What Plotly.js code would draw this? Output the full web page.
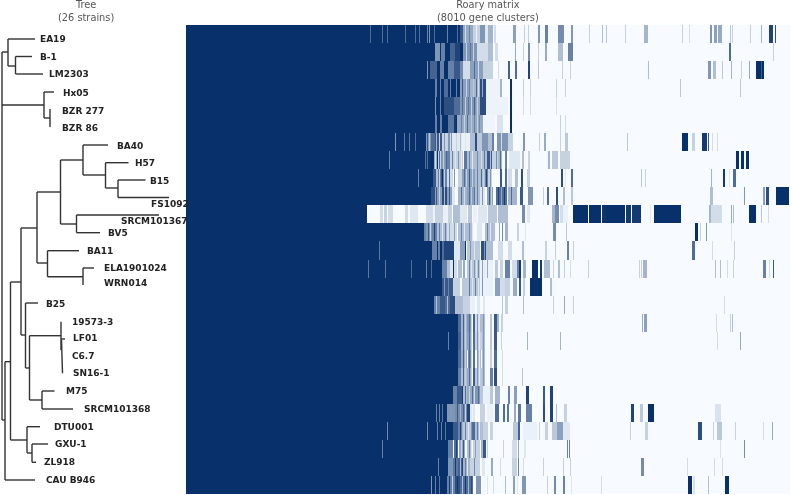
<!DOCTYPE html>
<html><head><meta charset="utf-8">
<script src="https://cdn.plot.ly/plotly-3.0.1.min.js"></script>
<style>html,body{margin:0;padding:0;background:#fff}#chart{width:791px;height:495px}
#chart .hm image,#chart .heatmaplayer image{filter:blur(0.55px)}
#chart .scatterlayer{filter:blur(0.3px)}</style>
</head><body><div id="chart"></div>
<script>
const strains=["EA19","B-1","LM2303","Hx05","BZR 277","BZR 86","BA40","H57","B15","FS1092","SRCM101367","BV5","BA11","ELA1901024","WRN014","B25","19573-3","LF01","C6.7","SN16-1","M75","SRCM101368","DTU001","GXU-1","ZL918","CAU B946"];
const totalClusters=8010, matrixBins=604;
// last bin of the solid core genome for each strain
const coreEnd=[274,277,274,274,274,274,262,262,262,262,181,262,280,268,268,268,272,272,272,272,278,264,278,265,265,270];
// [bin, level] or [startBin, endBin, level] read per strain
const r0=[[184,.7],[196,.7],[201,.7],[219,.7],[229,.7],[233,.7],[241,.6],[243,.5],[248,.7],[261,.6],[271,.7],[274,277,.8],[277,287,.4],[279,.15],[283,.6],[287,294,.2],[290,.05],[294,299,.5],[299,302,.1],[302,307,.35],[308,310,.15],[327,330,.45],[338,.2],[342,.2],[352,354,.5],[359,362,.6],[372,378,.55],[385,387,.5],[403,.2],[416,.3],[420,.25],[439,.2],[458,462,.35],[496,.2],[503,.15],[524,526,.5],[528,531,.45],[532,536,.4],[544,.25],[546,.2],[564,.2],[575,.35],[583,587,.9],[589,.85]];
const r1=[[249,254,.5],[255,259,.6],[264,269,.75],[269,274,.9],[277,291,.5],[280,.2],[284,.65],[287,.2],[291,302,.15],[302,307,.3],[309,312,.15],[329,.4],[337,.2],[342,344,.55],[352,.2],[359,361,.4],[372,377,.3],[382,387,.6],[543,545,.7],[587,.2]];
const r2=[[241,.5],[244,251,.75],[254,258,.6],[262,268,.6],[268,274,.8],[274,277,.55],[277,284,.15],[284,297,.45],[288,.7],[292,.15],[297,307,.2],[312,.15],[322,324,.75],[329,331,.7],[342,344,.9],[352,.25],[376,.2],[384,.2],[462,.3],[522,525,.5],[527,530,.3],[536,.25],[545,.35],[555,.2],[563,.4],[570,575,1],[575,.8],[576,578,1]];
const r3=[[249,251,.6],[254,.6],[258,262,.7],[264,.6],[270,.6],[274,284,.45],[276,.8],[280,.2],[283,.6],[284,294,.35],[287,.25],[290,.7],[292,.15],[294,300,.85],[296,.4],[300,314,.04],[314,316,.35],[324,326,1],[337,.2],[344,.2],[370,.2],[379,.2],[494,.25],[554,.25]];
const r4=[[249,.5],[254,.6],[258,268,.85],[268,274,.7],[274,290,.5],[276,.7],[279,.2],[282,.65],[285,.2],[288,.75],[290,294,.4],[291,.2],[294,300,.85],[300,322,.04],[324,326,1],[337,.15],[344,.15],[370,.12]];
const r5=[[249,251,.6],[254,256,.6],[262,268,.65],[268,270,.95],[271,297,.4],[275,.6],[278,.2],[281,.7],[285,.25],[288,.6],[291,.2],[293,.55],[297,309,.03],[311,317,.12],[324,326,1],[374,.2],[379,.15]];
const r6=[[209,.5],[218,.65],[223,.65],[229,.7],[240,246,.5],[241,.8],[243,.25],[245,.7],[246,249,.7],[249,256,.8],[250,.35],[253,.2],[256,262,.2],[258,.5],[262,266,.5],[264,.15],[266,276,.1],[270,.2],[274,.3],[276,284,.05],[279,.1],[284,289,.3],[289,291,.85],[291,296,.25],[296,302,.5],[302,306,.3],[306,308,.6],[311,322,.5],[315,.15],[322,327,.2],[337,339,.5],[353,.2],[358,360,.4],[374,.2],[379,382,.25],[441,.25],[496,502,1],[506,509,.2],[516,521,.95],[522,.8],[526,.15],[531,.15]];
const r7=[[203,.6],[239,242,.7],[240,.95],[243,.95],[248,251,.4],[249,.15],[252,255,.2],[253,.7],[255,261,.5],[257,.2],[260,.75],[261,264,.6],[264,277,.2],[266,.6],[269,.1],[272,.5],[275,.1],[278,281,.65],[281,289,.3],[283,.6],[286,.1],[289,301,.3],[291,.55],[295,.15],[298,.65],[301,306,.8],[304,.3],[306,312,.2],[310,.55],[312,316,.35],[314,.7],[319,321,.6],[323,334,.1],[336,338,.3],[342,344,.2],[362,364,.35],[366,372,.25],[374,384,.2],[550,553,1],[555,558,1],[560,563,1]];
const r8=[[232,.6],[247,250,.8],[250,252,.3],[252,256,.6],[253,.2],[255,.8],[257,261,.6],[258,.2],[261,267,.15],[263,.7],[268,.5],[272,276,.2],[276,289,.45],[278,.7],[280,.2],[283,.8],[286,.2],[289,299,.3],[291,.6],[295,.7],[297,.2],[299,302,.6],[300,.9],[302,306,.2],[304,.5],[314,316,.8],[319,321,.7],[322,326,.15],[329,332,.3],[335,337,.85],[341,344,.2],[375,377,.85],[379,.1],[385,387,.7],[455,.25],[459,.2],[525,.35],[537,539,.95],[543,.1],[547,550,.7]];
const r9=[[245,249,.85],[249,256,.45],[250,.8],[253,.2],[256,261,.85],[258,.3],[261,266,.45],[263,.8],[266,269,.1],[272,281,.35],[275,.7],[278,.15],[281,289,.45],[283,.7],[285,.25],[288,.65],[289,294,.3],[291,.6],[294,299,.1],[296,.5],[301,307,.45],[303,.8],[305,.2],[310,321,.7],[312,.9],[315,.4],[318,.95],[322,331,.35],[325,.7],[334,337,.8],[342,347,.5],[357,358,.2],[361,363,.7],[370,372,.85],[377,379,.3],[385,387,.25],[524,527,.3],[558,.5],[577,579,.45],[580,583,.85],[590,603,1]];
const r10=[[181,194,0],[194,197,.15],[198,201,.2],[202,207,.15],[209,217,0],[219,222,.15],[224,232,.1],[234,239,0],[240,247,.15],[247,249,.05],[249,257,.2],[257,262,.05],[262,266,.2],[267,274,.3],[274,281,.1],[282,286,.25],[287,291,.05],[292,301,.1],[302,311,.25],[312,322,.3],[336,339,.55],[341,344,.1],[366,369,.35],[369,373,.55],[374,377,.15],[377,382,.05],[387,402,1],[403,415,1],[416,420,.98],[420,439,1],[440,445,.95],[446,455,.95],[464,.1],[468,495,1],[523,525,.35],[525,536,.15],[545,.4],[547,.3],[563,570,1],[575,.25],[582,.15]];
const r11=[[238,240,.6],[240,246,.5],[242,.8],[244,.2],[246,251,.6],[248,.9],[251,261,.3],[253,.6],[256,.1],[259,.6],[261,271,.15],[263,.4],[268,.45],[272,287,.3],[275,.6],[278,.1],[283,.55],[286,.1],[291,296,.1],[299,309,.3],[301,.6],[304,.1],[313,.4],[316,.55],[319,322,.35],[331,333,.2],[339,.1],[367,370,.55],[380,381,.25],[509,512,1],[514,.2],[520,.5],[545,.1]];
const r12=[[193,.65],[246,251,.6],[252,254,.6],[256,258,.7],[258,268,.9],[268,274,.1],[274,279,.45],[281,294,.25],[284,.5],[288,.1],[295,300,.85],[298,.5],[300,307,.3],[312,317,.15],[322,326,.15],[336,338,.3],[359,361,.2],[369,.2],[381,383,.6],[387,.2],[506,509,.7],[526,.15],[548,.2]];
const r13=[[182,.65],[199,.65],[225,.7],[240,.6],[245,.7],[256,261,.6],[261,264,.3],[264,267,.1],[268,271,.15],[272,276,.3],[277,279,.4],[281,294,.25],[283,.6],[285,.1],[288,.5],[290,.1],[292,.55],[294,307,.05],[296,.45],[298,.1],[301,.4],[309,312,.25],[314,317,.2],[319,324,.6],[326,331,.15],[331,333,.6],[333,335,.95],[337,340,.35],[346,352,1],[354,356,.95],[358,364,.3],[367,.2],[372,374,.3],[378,.2],[384,.15],[402,.2],[453,.2],[455,.2],[457,461,.35],[529,.3],[534,.3],[541,.15],[547,.2],[577,580,.6],[583,.15],[587,.8]];
const r14=[[256,267,.8],[258,.5],[262,.6],[267,274,.2],[276,294,.25],[283,.65],[286,.1],[289,.6],[292,.1],[294,307,.05],[296,.5],[309,314,.45],[314,319,.15],[319,324,.2],[327,331,.4],[333,335,.8],[337,339,.2],[344,356,1],[364,366,.3]];
const r15=[[248,254,.6],[250,.3],[254,259,.8],[259,264,.7],[261,.3],[264,269,.85],[269,277,.3],[277,284,.2],[284,289,.05],[291,294,.1],[297,299,.1],[316,317,.25],[319,322,.2],[337,.3],[367,.2],[378,.4],[387,.2],[538,.15]];
const r16=[[272,275,.7],[275,281,.35],[277,.75],[279,.2],[281,286,.5],[283,.7],[285,.2],[287,289,.75],[289,294,.15],[291,.5],[293,.1],[294,299,.3],[297,.5],[304,306,.25],[308,311,.8],[311,313,.35],[315,317,.2],[456,.4],[458,461,.45],[530,.15],[544,.2],[546,.3]];
const r17=[[262,.6],[272,275,.75],[275,281,.35],[277,.75],[279,.2],[281,286,.45],[283,.7],[285,.2],[287,289,.7],[289,296,.2],[291,.5],[293,.1],[296,299,.3],[297,.5],[304,306,.25],[308,311,.8],[315,316,.2],[341,.35],[374,.35],[531,.15],[554,.4]];
const r18=[[272,275,.7],[275,281,.4],[277,.75],[279,.2],[282,286,.55],[283,.7],[285,.2],[287,289,.7],[291,295,.3],[291,.5],[293,.1],[296,299,.3],[297,.5],[304,306,.2],[308,311,.7],[316,.15]];
const r19=[[272,275,.6],[275,281,.3],[277,.75],[279,.2],[281,286,.4],[283,.7],[285,.2],[287,289,.8],[289,296,.25],[291,.5],[293,.1],[296,299,.3],[297,.5],[304,307,.6],[308,311,.85],[316,.15],[336,.25]];
const r20=[[267,271,.6],[271,276,.8],[276,277,.95],[277,281,.3],[279,.7],[281,289,.4],[283,.2],[286,.7],[288,.15],[289,294,.5],[292,.7],[294,297,.25],[297,304,.05],[304,307,.25],[309,314,.35],[322,324,.6],[328,331,.45],[340,343,.9],[357,359,.8],[364,367,.9]];
const r21=[[250,.6],[253,.6],[256,.65],[261,269,.5],[269,281,.55],[271,.8],[274,.35],[277,.75],[279,.2],[281,284,.9],[284,289,.1],[286,.05],[294,299,.2],[301,307,.05],[309,313,.7],[317,319,.7],[321,323,.65],[328,330,.4],[332,335,.65],[340,346,.6],[357,359,.85],[364,367,.9],[370,.3],[378,381,.2],[445,448,.9],[454,457,.25],[462,468,1],[529,535,.12]];
const r22=[[201,.55],[241,.55],[251,.6],[255,.6],[259,.65],[267,272,.8],[272,277,.6],[274,.9],[276,.35],[277,286,.25],[279,.6],[282,.1],[285,.5],[286,289,.7],[289,297,.3],[291,.6],[293,.1],[297,302,.2],[304,307,.2],[327,332,.25],[332,334,.75],[337,351,.05],[353,.2],[359,362,.2],[366,371,.25],[371,377,.45],[377,384,.1],[444,.2],[459,462,.2],[512,516,.85],[527,.2],[531,536,.25],[549,.2],[577,.15],[586,.4]];
const r23=[[196,.6],[262,267,.6],[268,272,.7],[270,.9],[273,279,.4],[275,.2],[277,.8],[281,286,.3],[283,.6],[285,.1],[287,294,.2],[289,.45],[295,297,.35],[297,300,.8],[301,302,.2],[317,.2],[326,331,.15],[332,.4],[338,340,.1],[381,382,.6],[383,.6],[534,.12],[558,.55]];
const r24=[[252,.6],[262,267,.5],[267,272,.65],[269,.95],[272,277,.75],[274,.3],[276,.9],[277,284,.35],[279,.6],[281,.1],[284,294,.2],[288,.55],[296,299,.1],[305,307,.4],[314,.15],[326,331,.2],[332,333,.6],[337,.15],[357,.2],[377,.2],[384,.2],[455,458,.55],[501,.15],[528,.15],[536,.15]];
const r25=[[245,.5],[249,.6],[253,.65],[261,269,.6],[263,.95],[266,.2],[269,274,.85],[271,.95],[274,287,.7],[276,.3],[279,.95],[282,.35],[285,.85],[290,295,.5],[301,302,.1],[307,.15],[319,.3],[327,329,.45],[331,.1],[336,340,.5],[361,.2],[368,370,.55],[377,379,.6],[385,.1],[415,.15],[502,506,1],[507,509,.12],[522,.3],[539,543,1]];
const strainBands=[r0,r1,r2,r3,r4,r5,r6,r7,r8,r9,r10,r11,r12,r13,r14,r15,r16,r17,r18,r19,r20,r21,r22,r23,r24,r25];

// tree branches [x1,y1,x2,y2]
const treeEdges=[[2,52,2,420],[2,52,8,52],[8,39,8,66],[8,39,35,39],[8,66,15.5,66],[15.5,56.5,15.5,74],[15.5,56.5,32,56.5],[15.5,74,43,74],
[2,105,44,105],[44,92,44,118],[44,92,54,92],[44,118,50,118],[50,109,50,127],
[2,420,5,420],[5,361.7,5,480],[5,480,35,480],[5,361.7,10.5,361.7],[10.5,282,10.5,440],[10.5,282,21,282],[21,228,21,335],[21,228,37,228],[37,192,37,263],[37,192,60.5,192],[60.5,160,60.5,224],[60.5,160,83,160],[83,145,83,175],[83,145,108,145],[83,175,105.5,175],[105.5,162.7,105.5,188],[105.5,162.7,128.5,162.7],[105.5,188,118,188],[118,180,118,197.5],[118,180,145.5,180],[118,197.5,169,197.5],
[60.5,224,76.5,224],[76.5,215,76.5,232.7],[76.5,215,159,215],[76.5,232.7,100,232.7],
[37,263,47.5,263],[47.5,250.7,47.5,276.7],[47.5,250.7,79,250.7],[47.5,276.7,83,276.7],[83,268,83,285],[83,268,94,268],
[21,335,25.5,335],[25.5,303,25.5,368],[25.5,303,38,303],[25.5,368,29.5,368],[29.5,335.7,29.5,400],[29.5,335.7,61,335.7],[61,321.7,61,350],[61,339,65,339],[61.5,340,62.5,373.3],
[29.5,400,42,400],[42,391,42,409],[42,391,54.5,391],[42,409,73,409],
[10.5,440,27,440],[27,426.7,27,453],[27,426.7,40,426.7],[27,453,32,453],[32,444,32,462.3],[32,444,48,444],[32,462.3,36,462.3]];
const labelX=[40,40,49,63,62,62,117,135,150,151,121,108,87,104,104,46,72,73,72,73,66,84,54,55,44,46];
const labelY=[40,58,75,94,111.5,129,147,164,182,205,222,234,252,269,284,305,323,339,357,374,392,410,428,445,463,481];

const z=strains.map((s,i)=>{
  const row=new Array(matrixBins).fill(0);
  for(let c=0;c<coreEnd[i];c++)row[c]=1;
  strainBands[i].forEach(b=>{
    const a=b[0],e=b.length===3?b[1]:b[0]+1,v=b[b.length-1];
    for(let c=a;c<e&&c<matrixBins;c++)row[c]=v;
  });
  return row;
});
const dx=totalClusters/matrixBins;
const treeXs=[],treeYs=[];
treeEdges.forEach(e=>{treeXs.push(e[0],e[2],null);treeYs.push(e[1],e[3],null);});

const traces=[
 {type:'heatmap',z:z,x0:dx/2,dx:dx,y0:0,dy:1,zmin:0,zmax:1,showscale:false,hoverinfo:'skip',
  colorscale:[[0,'#f7fbff'],[1,'#08306b']],xaxis:'x',yaxis:'y'},
 {type:'scatter',mode:'lines',x:treeXs,y:treeYs,xaxis:'x2',yaxis:'y2',hoverinfo:'skip',
  line:{color:'#333333',width:1.4},connectgaps:false},
 {type:'scatter',mode:'text',x:labelX,y:labelY,text:strains,textposition:'middle right',xaxis:'x2',yaxis:'y2',hoverinfo:'skip',
  textfont:{family:'DejaVu Sans',size:9,color:'#222222',weight:700},cliponaxis:false}
];
const W=791,H=495;
const layout={width:W,height:H,margin:{l:0,r:0,t:0,b:0},paper_bgcolor:'#fff',plot_bgcolor:'#fff',showlegend:false,
 xaxis:{domain:[186/W,790/W],range:[0,totalClusters],visible:false,fixedrange:true},
 yaxis:{domain:[1/H,470/H],range:[25.5,-0.5],visible:false,fixedrange:true},
 xaxis2:{domain:[0,186/W],range:[0,186],visible:false,anchor:'y2',fixedrange:true},
 yaxis2:{domain:[0,1],range:[495,0],visible:false,anchor:'x2',fixedrange:true},
 annotations:[
  {text:'Tree<br>(26 strains)',xref:'paper',yref:'paper',x:86/W,y:1-11/H,xanchor:'center',yanchor:'middle',showarrow:false,font:{family:'DejaVu Sans',size:9.8,color:'#555555'}},
  {text:'Roary matrix<br>(8010 gene clusters)',xref:'paper',yref:'paper',x:488/W,y:1-11/H,xanchor:'center',yanchor:'middle',showarrow:false,font:{family:'DejaVu Sans',size:9.8,color:'#555555'}}
 ]};
Plotly.newPlot('chart',traces,layout,{displayModeBar:false,staticPlot:true});
</script></body></html>
